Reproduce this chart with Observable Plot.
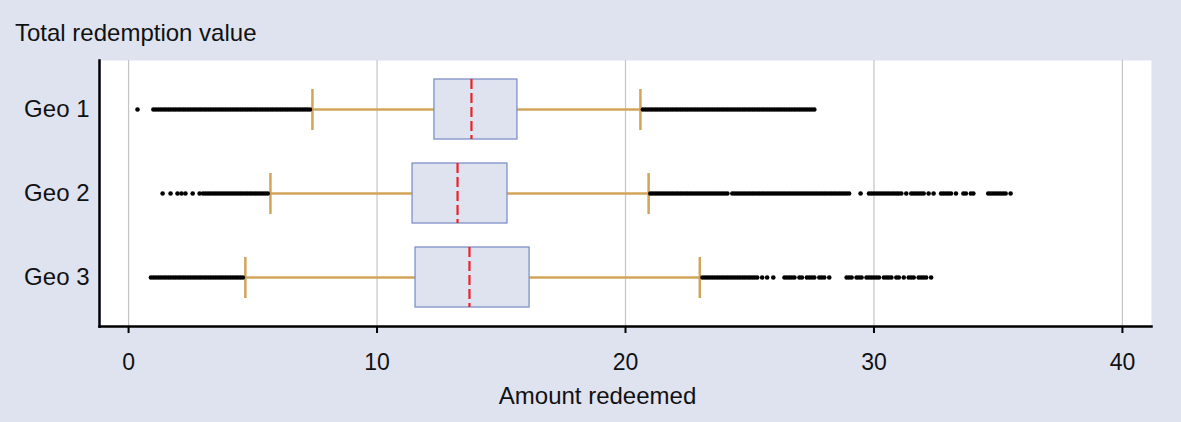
<!DOCTYPE html>
<html>
<head>
<meta charset="utf-8">
<script src="https://cdn.jsdelivr.net/npm/d3@7"></script>
<script src="https://cdn.jsdelivr.net/npm/@observablehq/plot@0.6"></script>
<style>
  html, body { margin: 0; padding: 0; background: #dfe3f0; }
  #wrap { width: 1181px; height: 422px; background: #dfe3f0; font-family: "Liberation Sans", Arial, sans-serif; }
  #title { height: 50px; box-sizing: border-box; padding: 21px 0 0 15px; font-size: 24px; line-height: 24px; color: #111; }
  svg { display: block; }
</style>
</head>
<body>
<div id="wrap">
  <div id="title">Total redemption value</div>
  <div id="chart"></div>
</div>
<script>
const geos = ["Geo 1", "Geo 2", "Geo 3"];
const q1 = [12.31, 11.43, 11.55];
const medians = [13.80, 13.24, 13.72];
const q3 = [15.65, 15.25, 16.14];
const whiskerLow = [7.40, 5.71, 4.70];
const whiskerHigh = [20.60, 20.93, 22.99];
const xTicks = [0, 10, 20, 30, 40];
const xLabel = "Amount redeemed";

const geo1Outliers = [
  0.36, 1.0, 1.1, 1.2, 1.3, 1.4, 1.5, 1.6, 1.7, 1.8, 1.9, 2.0, 2.1, 2.2, 2.3, 2.4, 2.5, 2.6, 2.7, 2.8, 2.9,
  3.0, 3.1, 3.2, 3.3, 3.4, 3.5, 3.6, 3.7, 3.8, 3.9, 4.0, 4.1, 4.2, 4.3, 4.4, 4.5, 4.6, 4.7, 4.8, 4.9,
  5.0, 5.1, 5.2, 5.3, 5.4, 5.5, 5.6, 5.7, 5.8, 5.9, 6.0, 6.1, 6.2, 6.3, 6.4, 6.5, 6.6, 6.7, 6.8, 6.9,
  7.0, 7.1, 7.2, 7.3,
  20.7, 20.8, 20.9, 21.0, 21.1, 21.2, 21.3, 21.4, 21.5, 21.6, 21.7, 21.8, 21.9, 22.0, 22.1, 22.2, 22.3,
  22.4, 22.5, 22.6, 22.7, 22.8, 22.9, 23.0, 23.1, 23.2, 23.3, 23.4, 23.5, 23.6, 23.7, 23.8, 23.9, 24.0,
  24.1, 24.2, 24.3, 24.4, 24.5, 24.6, 24.7, 24.8, 24.9, 25.0, 25.1, 25.2, 25.3, 25.4, 25.5, 25.6, 25.7,
  25.8, 25.9, 26.0, 26.1, 26.2, 26.3, 26.4, 26.5, 26.6, 26.7, 26.8, 26.9, 27.0, 27.1, 27.2, 27.3, 27.4,
  27.5, 27.6
];
const geo2Outliers = [
  1.37, 1.69, 1.97, 2.13, 2.29, 2.58, 2.86, 3.0, 3.1, 3.2, 3.3, 3.4, 3.5, 3.6, 3.7, 3.8, 3.9, 4.0, 4.1,
  4.2, 4.3, 4.4, 4.5, 4.6, 4.7, 4.8, 4.9, 5.0, 5.1, 5.2, 5.3, 5.4, 5.5, 5.6,
  21.0, 21.1, 21.2, 21.3, 21.4, 21.5, 21.6, 21.7, 21.8, 21.9, 22.0, 22.1, 22.2, 22.3, 22.4, 22.5, 22.6,
  22.7, 22.8, 22.9, 23.0, 23.1, 23.2, 23.3, 23.4, 23.5, 23.6, 23.7, 23.8, 23.9, 24.0, 24.1, 24.3, 24.4,
  24.5, 24.6, 24.7, 24.8, 24.9, 25.0, 25.1, 25.2, 25.3, 25.4, 25.5, 25.6, 25.7, 25.8, 25.9, 26.0, 26.1,
  26.2, 26.3, 26.4, 26.5, 26.6, 26.7, 26.8, 26.9, 27.0, 27.1, 27.2, 27.3, 27.4, 27.5, 27.6, 27.7, 27.8,
  27.9, 28.0, 28.1, 28.2, 28.3, 28.4, 28.5, 28.6, 28.7, 28.8, 28.9, 29.0,
  29.46, 29.8, 29.9, 30.0, 30.1, 30.2, 30.3, 30.4, 30.5, 30.6, 30.7, 30.8, 30.9, 31.0, 31.1, 31.3,
  31.5, 31.6, 31.7, 31.8, 31.9, 32.0, 32.2, 32.4, 32.7, 32.8, 32.9, 33.0, 33.1, 33.3, 33.6, 33.7, 33.9,
  34.0, 34.6, 34.7, 34.8, 34.9, 35.0, 35.1, 35.2, 35.3, 35.5
];
const geo3Outliers = [
  0.9, 1.0, 1.1, 1.2, 1.3, 1.4, 1.5, 1.6, 1.7, 1.8, 1.9, 2.0, 2.1, 2.2, 2.3, 2.4, 2.5, 2.6, 2.7, 2.8,
  2.9, 3.0, 3.1, 3.2, 3.3, 3.4, 3.5, 3.6, 3.7, 3.8, 3.9, 4.0, 4.1, 4.2, 4.3, 4.4, 4.5, 4.6,
  23.1, 23.2, 23.3, 23.4, 23.5, 23.6, 23.7, 23.8, 23.9, 24.0, 24.1, 24.2, 24.3, 24.4, 24.5, 24.6, 24.7,
  24.8, 24.9, 25.0, 25.1, 25.2, 25.3, 25.5, 25.7, 25.95,
  26.4, 26.5, 26.6, 26.7, 26.8, 27.0, 27.1, 27.3, 27.4, 27.5, 27.6, 27.8, 27.9, 28.0, 28.2,
  28.9, 29.0, 29.1, 29.3, 29.4, 29.5, 29.7, 29.8, 29.9, 30.0, 30.1, 30.2, 30.4, 30.5, 30.6, 30.7, 30.9,
  31.0, 31.2, 31.4, 31.5, 31.6, 31.8, 31.9, 32.0, 32.1, 32.3
];

const boxes = geos.map((g, i) => ({
  geo: g, q1: q1[i], median: medians[i], q3: q3[i], lo: whiskerLow[i], hi: whiskerHigh[i]
}));
const outliers = [
  ...geo1Outliers.map(v => ({ geo: geos[0], value: v })),
  ...geo2Outliers.map(v => ({ geo: geos[1], value: v })),
  ...geo3Outliers.map(v => ({ geo: geos[2], value: v }))
];

const whiskerColor = "#d2a45a";
const font = "'Liberation Sans', Arial, sans-serif";

const chart = Plot.plot({
  width: 1181,
  height: 372,
  marginTop: 10,
  marginBottom: 96,
  marginLeft: 99,
  marginRight: 30,
  style: { background: "transparent", fontFamily: font, color: "#111" },
  x: { domain: [-1.17, 41.17] },
  y: { type: "band", domain: geos, paddingInner: 0.29, paddingOuter: 0.219 },
  marks: [
    Plot.frame({ fill: "white", stroke: null }),
    Plot.gridX(xTicks, { stroke: "#c4c4c4", strokeOpacity: 1, strokeWidth: 1.2 }),
    Plot.ruleY(boxes, { y: "geo", x1: "lo", x2: "hi", stroke: whiskerColor, strokeWidth: 2.5 }),
    Plot.barX(boxes, { y: "geo", x1: "q1", x2: "q3", fill: "#dfe3f0", stroke: "#7d91c8", strokeWidth: 1.3 }),
    Plot.tickX(boxes, { y: "geo", x: "median", stroke: "#ec2228", strokeWidth: 2.2, strokeDasharray: "10,4" }),
    Plot.tickX(boxes, { y: "geo", x: "lo", stroke: whiskerColor, strokeWidth: 2.5, insetTop: 10, insetBottom: 9 }),
    Plot.tickX(boxes, { y: "geo", x: "hi", stroke: whiskerColor, strokeWidth: 2.5, insetTop: 10, insetBottom: 9 }),
    Plot.dot(outliers, { y: "geo", x: "value", r: 2.3, fill: "black", stroke: null }),
    Plot.frame({ anchor: "left", stroke: "black", strokeWidth: 2.5 }),
    Plot.frame({ anchor: "bottom", stroke: "black", strokeWidth: 2.5 }),
    Plot.axisX(xTicks, { tickSize: 7, tickPadding: 20, fontSize: 23, strokeWidth: 2, stroke: "black", label: null }),
    Plot.axisY({ tickSize: 0, tickPadding: 10, fontSize: 24, label: null }),
    Plot.text([xLabel], { frameAnchor: "bottom", dy: 70, dx: -28, lineAnchor: "middle", fontSize: 24, fill: "#111" })
  ]
});
document.getElementById("chart").appendChild(chart);
</script>
</body>
</html>
